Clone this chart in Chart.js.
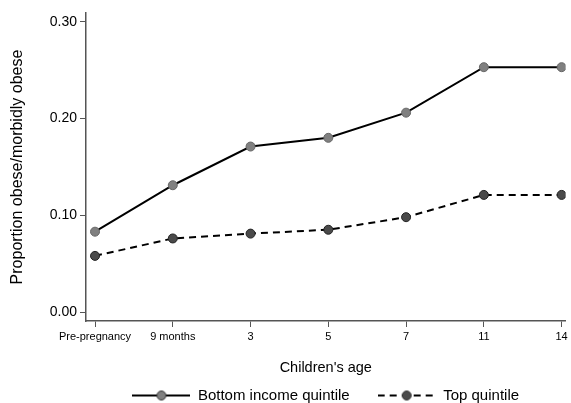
<!DOCTYPE html>
<html>
<head>
<meta charset="utf-8">
<script src="https://cdn.jsdelivr.net/npm/chart.js@4/dist/chart.umd.min.js"></script>
<style>
  html, body { margin: 0; padding: 0; background: #fff; }
  #wrap { width: 571px; height: 403px; }
</style>
</head>
<body>
<div id="wrap"><canvas id="chart" width="571" height="403"></canvas></div>
<script>
const categories = ['Pre-pregnancy', '9 months', '3', '5', '7', '11', '14'];
const bottomQuintile = [0.083, 0.131, 0.171, 0.180, 0.206, 0.253, 0.253];
const topQuintile = [0.058, 0.076, 0.081, 0.085, 0.098, 0.121, 0.121];
const yTicks = [0, 0.1, 0.2, 0.3];

const FONT = 'Arial, "Liberation Sans", sans-serif';

// legend swatch: short line with a marker in the middle
function swatch(dashed, fill) {
  const c = document.createElement('canvas');
  c.width = 58;
  c.height = 12;
  const g = c.getContext('2d');
  g.strokeStyle = '#000';
  g.lineWidth = 2;
  if (dashed) g.setLineDash([7, 5]);
  g.beginPath();
  g.moveTo(0, 6);
  g.lineTo(58, 6);
  g.stroke();
  g.setLineDash([]);
  g.beginPath();
  g.arc(29, 6, 4.5, 0, Math.PI * 2);
  g.fillStyle = fill;
  g.fill();
  g.lineWidth = 1;
  g.strokeStyle = '#333';
  g.stroke();
  return c;
}

const toPoints = arr => arr.map((v, i) => ({ x: i, y: v }));

const ctx = document.getElementById('chart').getContext('2d');
new Chart(ctx, {
  type: 'line',
  data: {
    datasets: [{
      label: 'Bottom income quintile',
      data: toPoints(bottomQuintile),
      borderColor: '#000',
      borderWidth: 2,
      pointRadius: 4.5,
      pointBackgroundColor: '#808080',
      pointBorderColor: '#666',
      pointBorderWidth: 1,
      tension: 0
    }, {
      label: 'Top quintile',
      data: toPoints(topQuintile),
      borderColor: '#000',
      borderWidth: 2,
      borderDash: [7, 5],
      pointRadius: 4.5,
      pointBackgroundColor: '#4a4a4a',
      pointBorderColor: '#222',
      pointBorderWidth: 1,
      tension: 0
    }]
  },
  options: {
    responsive: false,
    animation: false,
    layout: { padding: { top: 13, right: 0, left: 0, bottom: -10 } },
    scales: {
      x: {
        type: 'linear',
        min: -0.116,
        max: 6.05,
        afterBuildTicks: s => { s.ticks = categories.map((c, i) => ({ value: i })); },
        afterFit: s => { s.height = 39; },
        ticks: {
          color: '#000',
          font: { family: FONT, size: 11 },
          padding: 3,
          maxRotation: 0,
          autoSkip: false,
          callback: v => categories[v]
        },
        grid: { drawOnChartArea: false, drawTicks: true, tickLength: 6, color: '#555' },
        border: { color: '#555', width: 1.5 },
        title: {
          display: true,
          text: "Children's age",
          color: '#000',
          font: { family: FONT, size: 14.5 },
          padding: { top: 0, bottom: -17 }
        }
      },
      y: {
        type: 'linear',
        min: -0.0093,
        max: 0.309,
        afterBuildTicks: s => { s.ticks = yTicks.map(v => ({ value: v })); },
        afterFit: s => { s.width = 86; },
        ticks: {
          color: '#000',
          font: { family: FONT, size: 14 },
          padding: 3,
          callback: v => v.toFixed(2)
        },
        grid: { drawOnChartArea: false, drawTicks: true, tickLength: 6, color: '#555' },
        border: { color: '#555', width: 1.5 },
        title: {
          display: true,
          text: 'Proportion obese/morbidly obese',
          color: '#000',
          font: { family: FONT, size: 16 },
          padding: { top: 8, bottom: 0 }
        }
      }
    },
    plugins: {
      tooltip: { enabled: false },
      legend: {
        position: 'bottom',
        fullSize: false,
        labels: {
          usePointStyle: true,
          pointStyleWidth: 58,
          padding: 28,
          color: '#000',
          font: { family: FONT, size: 15 },
          generateLabels: chart => chart.data.datasets.map((d, i) => ({
            text: d.label,
            datasetIndex: i,
            pointStyle: swatch(i === 1, i === 0 ? '#808080' : '#4a4a4a'),
            fontColor: '#000',
            lineWidth: 0,
            hidden: false
          }))
        }
      }
    }
  }
});
</script>
</body>
</html>
